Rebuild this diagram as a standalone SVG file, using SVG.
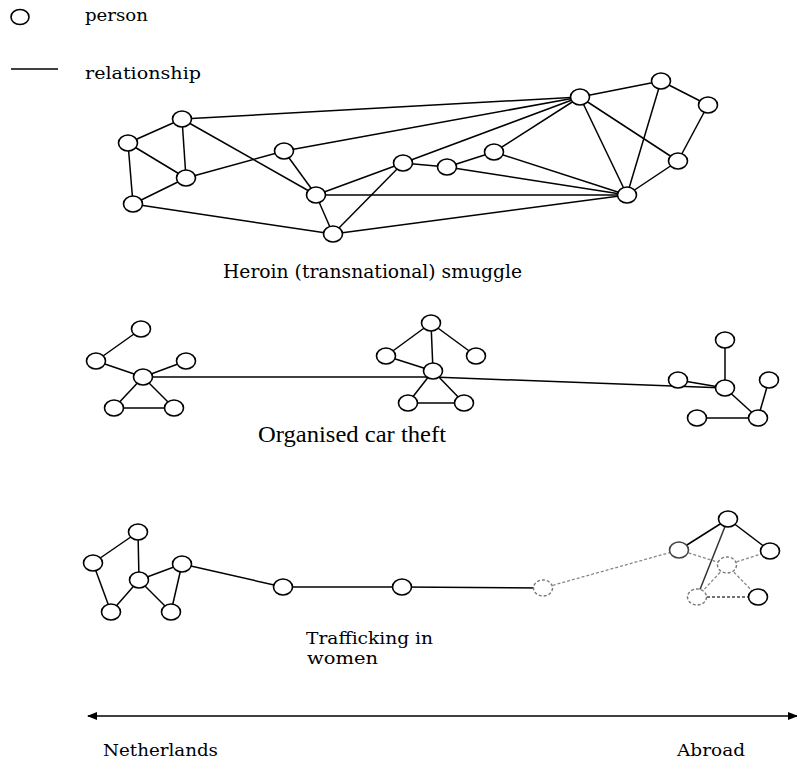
<svg xmlns="http://www.w3.org/2000/svg" width="797" height="762" viewBox="0 0 797 762">
<defs>
<style>
.n{fill:#fff;stroke:#000;stroke-width:1.6}
.g{fill:#fff;stroke:#777;stroke-width:1.4;stroke-dasharray:3 2}
.e{stroke:#000;stroke-width:1.5;fill:none}
.d{stroke:#888;stroke-width:1.3;stroke-dasharray:3 2;fill:none}
.t{font-family:"DejaVu Serif","Liberation Serif",serif;fill:#000}
.tt{font-family:"Liberation Serif","Times New Roman",serif;fill:#000}
</style>
<marker id="ah" viewBox="0 0 10 8" refX="9" refY="4" markerWidth="10" markerHeight="8" markerUnits="userSpaceOnUse" orient="auto-start-reverse">
<path d="M0,0 L10,4 L0,8 Z" fill="#000"/>
</marker>
</defs>
<rect width="797" height="762" fill="#fff"/>

<g id="legend">
<ellipse class="n" cx="20" cy="17" rx="9" ry="7.5"/>
<text class="t" x="85" y="21" font-size="16" textLength="63" lengthAdjust="spacingAndGlyphs">person</text>
<line class="e" x1="11" y1="69" x2="58" y2="69"/>
<text class="t" x="85" y="79" font-size="16" textLength="116" lengthAdjust="spacingAndGlyphs">relationship</text>
</g>

<g id="connectors">
<!-- heroin -->
<line class="e" x1="182" y1="119" x2="128" y2="143"/>
<line class="e" x1="182" y1="119" x2="186" y2="178"/>
<line class="e" x1="128" y1="143" x2="186" y2="178"/>
<line class="e" x1="128" y1="143" x2="133" y2="204"/>
<line class="e" x1="133" y1="204" x2="186" y2="178"/>
<line class="e" x1="186" y1="178" x2="284" y2="151"/>
<line class="e" x1="182" y1="119" x2="580" y2="97"/>
<line class="e" x1="182" y1="119" x2="316" y2="195"/>
<line class="e" x1="284" y1="151" x2="580" y2="97"/>
<line class="e" x1="284" y1="151" x2="316" y2="195"/>
<line class="e" x1="316" y1="195" x2="403" y2="163"/>
<line class="e" x1="403" y1="163" x2="447" y2="167"/>
<line class="e" x1="447" y1="167" x2="494" y2="152"/>
<line class="e" x1="403" y1="163" x2="580" y2="97"/>
<line class="e" x1="316" y1="195" x2="627" y2="195"/>
<line class="e" x1="333" y1="234" x2="403" y2="163"/>
<line class="e" x1="316" y1="195" x2="333" y2="234"/>
<line class="e" x1="133" y1="204" x2="333" y2="234"/>
<line class="e" x1="333" y1="234" x2="627" y2="195"/>
<line class="e" x1="447" y1="167" x2="627" y2="195"/>
<line class="e" x1="494" y1="152" x2="580" y2="97"/>
<line class="e" x1="494" y1="152" x2="627" y2="195"/>
<line class="e" x1="580" y1="97" x2="661" y2="81"/>
<line class="e" x1="580" y1="97" x2="627" y2="195"/>
<line class="e" x1="580" y1="97" x2="678" y2="161"/>
<line class="e" x1="661" y1="81" x2="627" y2="195"/>
<line class="e" x1="661" y1="81" x2="708" y2="105"/>
<line class="e" x1="708" y1="105" x2="678" y2="161"/>
<line class="e" x1="678" y1="161" x2="627" y2="195"/>
<!-- car theft -->
<line class="e" x1="141" y1="329" x2="96" y2="361"/>
<line class="e" x1="96" y1="361" x2="143" y2="377"/>
<line class="e" x1="186" y1="361" x2="143" y2="377"/>
<line class="e" x1="143" y1="377" x2="114" y2="408"/>
<line class="e" x1="143" y1="377" x2="174" y2="408"/>
<line class="e" x1="114" y1="408" x2="174" y2="408"/>
<line class="e" x1="143" y1="377" x2="433" y2="377"/>
<line class="e" x1="431" y1="323" x2="386" y2="356"/>
<line class="e" x1="431" y1="323" x2="433" y2="371"/>
<line class="e" x1="431" y1="323" x2="476" y2="356"/>
<line class="e" x1="386" y1="356" x2="433" y2="371"/>
<line class="e" x1="433" y1="371" x2="408" y2="403"/>
<line class="e" x1="433" y1="371" x2="464" y2="403"/>
<line class="e" x1="408" y1="403" x2="464" y2="403"/>
<line class="e" x1="433" y1="377" x2="725" y2="388"/>
<line class="e" x1="725" y1="340" x2="725" y2="388"/>
<line class="e" x1="678" y1="380" x2="725" y2="388"/>
<line class="e" x1="725" y1="388" x2="758" y2="418"/>
<line class="e" x1="769" y1="380" x2="758" y2="418"/>
<line class="e" x1="697" y1="418" x2="758" y2="418"/>
<!-- trafficking -->
<line class="e" x1="138" y1="532" x2="93" y2="563"/>
<line class="e" x1="138" y1="532" x2="139" y2="580"/>
<line class="e" x1="93" y1="563" x2="111" y2="612"/>
<line class="e" x1="139" y1="580" x2="111" y2="612"/>
<line class="e" x1="139" y1="580" x2="182" y2="564"/>
<line class="e" x1="139" y1="580" x2="171" y2="612"/>
<line class="e" x1="182" y1="564" x2="171" y2="612"/>
<line class="e" x1="182" y1="564" x2="283" y2="587"/>
<line class="e" x1="283" y1="587" x2="402" y2="587"/>
<line class="e" x1="402" y1="587" x2="543" y2="588"/>
<line class="d" x1="543" y1="588" x2="679" y2="550"/>
<line class="e" x1="728" y1="519" x2="679" y2="550"/>
<line class="e" x1="728" y1="519" x2="770" y2="551"/>
<line class="e" style="stroke:#333" x1="728" y1="519" x2="697" y2="597"/>
<line class="d" x1="679" y1="550" x2="727" y2="565"/>
<line class="d" x1="727" y1="565" x2="770" y2="551"/>
<line class="d" x1="727" y1="565" x2="697" y2="597"/>
<line class="d" x1="727" y1="565" x2="758" y2="597"/>
<line class="d" style="stroke:#444" x1="697" y1="597" x2="758" y2="597"/>
<!-- axis -->
<line class="e" x1="88" y1="716" x2="797" y2="716" marker-start="url(#ah)" marker-end="url(#ah)"/>
</g>

<g id="heroin">
<ellipse id="h1" class="n" cx="182" cy="119" rx="9.5" ry="8"/>
<ellipse id="h2" class="n" cx="128" cy="143" rx="9.5" ry="8"/>
<ellipse id="h3" class="n" cx="186" cy="178" rx="9.5" ry="8"/>
<ellipse id="h4" class="n" cx="133" cy="204" rx="9.5" ry="8"/>
<ellipse id="h5" class="n" cx="284" cy="151" rx="9.5" ry="8"/>
<ellipse id="h6" class="n" cx="316" cy="195" rx="9.5" ry="8"/>
<ellipse id="h7" class="n" cx="333" cy="234" rx="9.5" ry="8"/>
<ellipse id="h8" class="n" cx="403" cy="163" rx="9.5" ry="8"/>
<ellipse id="h9" class="n" cx="447" cy="167" rx="9.5" ry="8"/>
<ellipse id="h10" class="n" cx="494" cy="152" rx="9.5" ry="8"/>
<ellipse id="h11" class="n" cx="580" cy="97" rx="9.5" ry="8"/>
<ellipse id="h12" class="n" cx="661" cy="81" rx="9.5" ry="8"/>
<ellipse id="h13" class="n" cx="708" cy="105" rx="9.5" ry="8"/>
<ellipse id="h14" class="n" cx="678" cy="161" rx="9.5" ry="8"/>
<ellipse id="h15" class="n" cx="627" cy="195" rx="9.5" ry="8"/>
<text class="t" x="223" y="278" font-size="18" textLength="299" lengthAdjust="spacingAndGlyphs">Heroin (transnational) smuggle</text>
</g>

<g id="cartheft">
<ellipse id="c1" class="n" cx="141" cy="329" rx="9.5" ry="8"/>
<ellipse id="c2" class="n" cx="96" cy="361" rx="9.5" ry="8"/>
<ellipse id="c3" class="n" cx="186" cy="361" rx="9.5" ry="8"/>
<ellipse id="c4" class="n" cx="143" cy="377" rx="9.5" ry="8"/>
<ellipse id="c5" class="n" cx="114" cy="408" rx="9.5" ry="8"/>
<ellipse id="c6" class="n" cx="174" cy="408" rx="9.5" ry="8"/>
<ellipse id="c7" class="n" cx="431" cy="323" rx="9.5" ry="8"/>
<ellipse id="c8" class="n" cx="386" cy="356" rx="9.5" ry="8"/>
<ellipse id="c9" class="n" cx="476" cy="356" rx="9.5" ry="8"/>
<ellipse id="c10" class="n" cx="433" cy="371" rx="9.5" ry="8"/>
<ellipse id="c11" class="n" cx="408" cy="403" rx="9.5" ry="8"/>
<ellipse id="c12" class="n" cx="464" cy="403" rx="9.5" ry="8"/>
<ellipse id="c13" class="n" cx="725" cy="340" rx="9.5" ry="8"/>
<ellipse id="c14" class="n" cx="678" cy="380" rx="9.5" ry="8"/>
<ellipse id="c15" class="n" cx="769" cy="380" rx="9.5" ry="8"/>
<ellipse id="c16" class="n" cx="725" cy="388" rx="9.5" ry="8"/>
<ellipse id="c17" class="n" cx="697" cy="418" rx="9.5" ry="8"/>
<ellipse id="c18" class="n" cx="758" cy="418" rx="9.5" ry="8"/>
<text class="tt" x="258" y="442" font-size="23" textLength="188" lengthAdjust="spacingAndGlyphs">Organised car theft</text>
</g>

<g id="trafficking">
<ellipse id="w1" class="n" cx="138" cy="532" rx="9.5" ry="8"/>
<ellipse id="w2" class="n" cx="93" cy="563" rx="9.5" ry="8"/>
<ellipse id="w3" class="n" cx="182" cy="564" rx="9.5" ry="8"/>
<ellipse id="w4" class="n" cx="139" cy="580" rx="9.5" ry="8"/>
<ellipse id="w5" class="n" cx="111" cy="612" rx="9.5" ry="8"/>
<ellipse id="w6" class="n" cx="171" cy="612" rx="9.5" ry="8"/>
<ellipse id="w7" class="n" cx="283" cy="587" rx="9.5" ry="8"/>
<ellipse id="w8" class="n" cx="402" cy="587" rx="9.5" ry="8"/>
<ellipse id="w9" class="g" cx="543" cy="588" rx="9.5" ry="8"/>
<ellipse id="w10" class="n" cx="728" cy="519" rx="9.5" ry="8"/>
<ellipse id="w11" class="n" style="stroke:#444" cx="679" cy="550" rx="9.5" ry="8"/>
<ellipse id="w12" class="n" cx="770" cy="551" rx="9.5" ry="8"/>
<ellipse id="w13" class="g" cx="727" cy="565" rx="9.5" ry="8"/>
<ellipse id="w14" class="g" cx="697" cy="597" rx="9.5" ry="8"/>
<ellipse id="w15" class="n" cx="758" cy="597" rx="9.5" ry="8"/>
<text class="t" x="306" y="644" font-size="17" textLength="127" lengthAdjust="spacingAndGlyphs">Trafficking in</text>
<text class="t" x="307" y="664" font-size="17" textLength="71" lengthAdjust="spacingAndGlyphs">women</text>
</g>

<g id="axis-labels">
<text class="t" x="103" y="756" font-size="16.5" textLength="115" lengthAdjust="spacingAndGlyphs">Netherlands</text>
<text class="t" x="677" y="756" font-size="16.5" textLength="68" lengthAdjust="spacingAndGlyphs">Abroad</text>
</g>
</svg>
